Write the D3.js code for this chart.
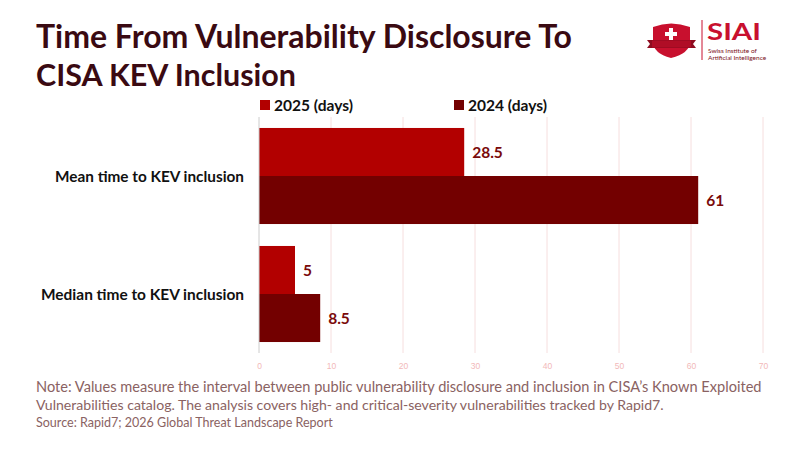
<!DOCTYPE html>
<html>
<head>
<meta charset="utf-8">
<script src="https://cdn.jsdelivr.net/npm/d3@7"></script>
<style>
  body { margin: 0; background: #fff; }
  svg { display: block; font-family: "Source Sans Pro", Lato, "Noto Sans", sans-serif; }
</style>
</head>
<body>
<div id="chart"></div>
<script>
const width = 800, height = 450;

// data
const categories = ["Mean time to KEV inclusion", "Median time to KEV inclusion"];
const seriesNames = ["2025 (days)", "2024 (days)"];
const values2025 = [28.5, 5];
const values2024 = [61, 8.5];
const xTicks = [0, 10, 20, 30, 40, 50, 60, 70];
const seriesColors = ["#b20000", "#730000"];

const titleLines = ["Time From Vulnerability Disclosure To", "CISA KEV Inclusion"];
const noteLines = [
  "Note: Values measure the interval between public vulnerability disclosure and inclusion in CISA\u2019s Known Exploited",
  "Vulnerabilities catalog. The analysis covers high- and critical-severity vulnerabilities tracked by Rapid7."
];
const sourceText = "Source: Rapid7; 2026 Global Threat Landscape Report";

const rows = categories.map((c, i) => ({ cat: c, vals: [values2025[i], values2024[i]] }));

const svg = d3.select("#chart").append("svg")
  .attr("width", width)
  .attr("height", height)
  .attr("viewBox", [0, 0, width, height]);

// fit a text element to a target width (fonts differ from the original)
function fitWidth(sel, target) {
  sel.each(function () {
    const w = this.getComputedTextLength();
    if (w > 0) {
      const fs = parseFloat(d3.select(this).attr("font-size"));
      d3.select(this).attr("font-size", (fs * target / w).toFixed(2));
    }
  });
}

// title
const titleW = [536, 260];
svg.append("g").selectAll("text")
  .data(titleLines)
  .join("text")
  .attr("x", 36)
  .attr("y", (d, i) => 48 + i * 38)
  .attr("font-size", 30)
  .attr("font-weight", 700)
  .attr("fill", "#3a0a12")
  .text(d => d)
  .each(function (d, i) { fitWidth(d3.select(this), titleW[i]); });

// plot area
const margin = { left: 259, right: 37, top: 117, bottom: 97 };
const x = d3.scaleLinear()
  .domain([0, 70])
  .range([margin.left, width - margin.right]);

const y = d3.scaleBand()
  .domain(categories)
  .range([margin.top, height - margin.bottom])
  .paddingInner(0.186)
  .paddingOuter(0.093);

const ySub = d3.scaleBand()
  .domain(seriesNames)
  .range([0, y.bandwidth()]);

// grid
svg.append("g")
  .selectAll("line")
  .data(xTicks.slice(1))
  .join("line")
  .attr("x1", d => x(d)).attr("x2", d => x(d))
  .attr("y1", margin.top).attr("y2", height - margin.bottom)
  .attr("stroke", "#f6dede")
  .attr("stroke-width", 1);

// x axis labels
const xAxis = d3.axisBottom(x).tickValues(xTicks).tickSize(0).tickPadding(7);
svg.append("g")
  .attr("transform", `translate(0,${height - margin.bottom + 3})`)
  .call(xAxis)
  .call(g => g.select(".domain").remove())
  .call(g => g.selectAll("text")
    .attr("font-size", 8.5)
    .attr("fill", "#f2b9b9")
    .attr("font-family", "inherit"));

// bars
const groups = svg.append("g")
  .selectAll("g")
  .data(rows)
  .join("g")
  .attr("transform", d => `translate(0,${y(d.cat)})`);

groups.selectAll("rect")
  .data(d => d.vals.map((v, i) => ({ v, s: seriesNames[i], i })))
  .join("rect")
  .attr("x", x(0))
  .attr("y", d => ySub(d.s))
  .attr("width", d => x(d.v) - x(0))
  .attr("height", ySub.bandwidth())
  .attr("fill", d => seriesColors[d.i]);

groups.selectAll("text.val")
  .data(d => d.vals.map((v, i) => ({ v, s: seriesNames[i], i })))
  .join("text")
  .attr("class", "val")
  .attr("x", d => x(d.v) + 8)
  .attr("y", d => ySub(d.s) + ySub.bandwidth() / 2)
  .attr("dy", "0.36em")
  .attr("font-size", 15.5)
  .attr("font-weight", 700)
  .attr("fill", "#7a0a0a")
  .text(d => d.v);

// zero line
svg.append("line")
  .attr("x1", x(0)).attr("x2", x(0))
  .attr("y1", margin.top).attr("y2", height - margin.bottom)
  .attr("stroke", "#cccccc");

// category labels
const catW = [189, 203];
svg.append("g")
  .selectAll("text")
  .data(categories)
  .join("text")
  .attr("x", 244)
  .attr("y", d => y(d) + y.bandwidth() / 2)
  .attr("dy", "0.36em")
  .attr("text-anchor", "end")
  .attr("font-size", 14)
  .attr("font-weight", 700)
  .attr("fill", "#111")
  .text(d => d)
  .each(function (d, i) { fitWidth(d3.select(this), catW[i]); });

// legend
const legendX = [260, 454];
const legend = svg.append("g")
  .selectAll("g")
  .data(seriesNames)
  .join("g")
  .attr("transform", (d, i) => `translate(${legendX[i]},100)`);
legend.append("rect")
  .attr("width", 10).attr("height", 10)
  .attr("fill", (d, i) => seriesColors[i]);
legend.append("text")
  .attr("x", 14).attr("y", 10.5)
  .attr("font-size", 14)
  .attr("font-weight", 700)
  .attr("fill", "#111")
  .text(d => d)
  .call(s => fitWidth(s, 79));

// note and source
svg.append("g").selectAll("text")
  .data(noteLines)
  .join("text")
  .attr("x", 36)
  .attr("y", (d, i) => 392 + i * 18)
  .attr("font-size", 14)
  .attr("fill", "#8a6262")
  .text(d => d)
  .each(function (d, i) { fitWidth(d3.select(this), [726, 628][i]); });

svg.append("text")
  .attr("x", 36).attr("y", 427)
  .attr("font-size", 12)
  .attr("fill", "#8a6262")
  .text(sourceText)
  .call(s => fitWidth(s, 297));

// logo
const logo = svg.append("g");
logo.append("path")
  .attr("d", "M653,27 Q671,20 690,27 L690,42 Q690,53 671,58 Q653,53 653,42 Z")
  .attr("fill", "#c8102e");
logo.append("path")
  .attr("d", "M647,40 L696,40 L693,44 L696,48 L647,48 L650,44 Z")
  .attr("fill", "#8e0b1f");
logo.append("rect").attr("x", 652).attr("y", 40.5).attr("width", 39).attr("height", 7).attr("fill", "#b00d26");
logo.append("path")
  .attr("d", "M669,28 h4 v4 h4 v4 h-4 v4 h-4 v-4 h-4 v-4 h4 Z")
  .attr("fill", "#fff");
logo.append("line")
  .attr("x1", 702).attr("x2", 702).attr("y1", 20).attr("y2", 60)
  .attr("stroke", "#c8102e").attr("stroke-width", 1);
logo.append("text")
  .attr("x", 707).attr("y", 40)
  .attr("font-size", 22).attr("font-weight", 700)
  .attr("fill", "#c8102e")
  .attr("textLength", 54)
  .attr("lengthAdjust", "spacingAndGlyphs")
  .text("SIAI");
logo.append("text")
  .attr("x", 708).attr("y", 53)
  .attr("font-size", 6.5).attr("fill", "#7a1020")
  .text("Swiss Institute of");
logo.append("text")
  .attr("x", 708).attr("y", 60)
  .attr("font-size", 6.5).attr("fill", "#7a1020")
  .text("Artificial Intelligence");
</script>
</body>
</html>
